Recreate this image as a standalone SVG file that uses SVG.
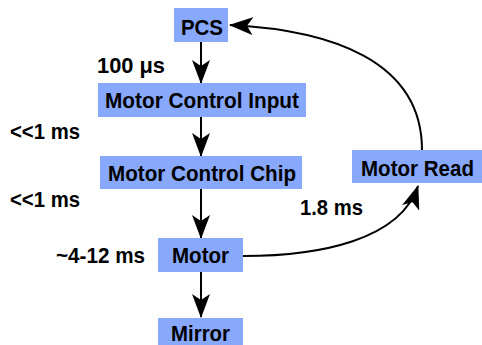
<svg xmlns="http://www.w3.org/2000/svg" width="482" height="345" viewBox="0 0 482 345">
<style>
.box{fill:#88a8fc;}
.t{font-family:"Liberation Sans",Arial,sans-serif;font-weight:bold;font-size:22.5px;fill:#000;}
.e{fill:none;stroke:#000;stroke-width:2;}
</style>
<defs>
<marker id="ah" viewBox="0 0 24 18" refX="23" refY="9" markerWidth="24" markerHeight="18" markerUnits="userSpaceOnUse" orient="auto">
<path d="M0,0 L24,9 L0,18 L6,9 Z" fill="#000"/>
</marker>
</defs>
<rect width="482" height="345" fill="#fff"/>
<g id="connectors">
<line class="e" x1="201" y1="42" x2="201" y2="83" marker-end="url(#ah)"/>
<line class="e" x1="201" y1="117" x2="201" y2="156" marker-end="url(#ah)"/>
<line class="e" x1="201" y1="189" x2="201" y2="238" marker-end="url(#ah)"/>
<line class="e" x1="201" y1="272" x2="201" y2="317" marker-end="url(#ah)"/>
<path class="e" d="M243,256 C320,256 400,240 418,186" marker-end="url(#ah)"/>
<path class="e" d="M422,150 C422,60 330,30 230,25" marker-end="url(#ah)"/>
</g>
<g id="pcs"><rect class="box" x="174" y="8" width="54" height="34"/><text class="t" x="181" y="35" textLength="42" lengthAdjust="spacingAndGlyphs">PCS</text></g>
<g id="mci"><rect class="box" x="98" y="83" width="208" height="34"/><text class="t" x="105" y="108" textLength="194" lengthAdjust="spacingAndGlyphs">Motor Control Input</text></g>
<g id="mcc"><rect class="box" x="100" y="156" width="202" height="33"/><text class="t" x="108" y="181" textLength="188" lengthAdjust="spacingAndGlyphs">Motor Control Chip</text></g>
<g id="motorread"><rect class="box" x="352" y="150" width="130" height="33"/><text class="t" x="361" y="176" textLength="113" lengthAdjust="spacingAndGlyphs">Motor Read</text></g>
<g id="motor"><rect class="box" x="158" y="238" width="85" height="34"/><text class="t" x="172" y="263" textLength="57" lengthAdjust="spacingAndGlyphs">Motor</text></g>
<g id="mirror"><rect class="box" x="158" y="318" width="85" height="34"/><text class="t" x="171" y="341" textLength="59" lengthAdjust="spacingAndGlyphs">Mirror</text></g>
<g id="labels">
<text class="t" x="97" y="73" textLength="68" lengthAdjust="spacingAndGlyphs">100 μs</text>
<text class="t" x="10" y="139" textLength="70" lengthAdjust="spacingAndGlyphs">&lt;&lt;1 ms</text>
<text class="t" x="10" y="207" textLength="70" lengthAdjust="spacingAndGlyphs">&lt;&lt;1 ms</text>
<text class="t" x="56" y="263" textLength="89" lengthAdjust="spacingAndGlyphs">~4-12 ms</text>
<text class="t" x="300" y="215" textLength="63" lengthAdjust="spacingAndGlyphs">1.8 ms</text>
</g>
</svg>
